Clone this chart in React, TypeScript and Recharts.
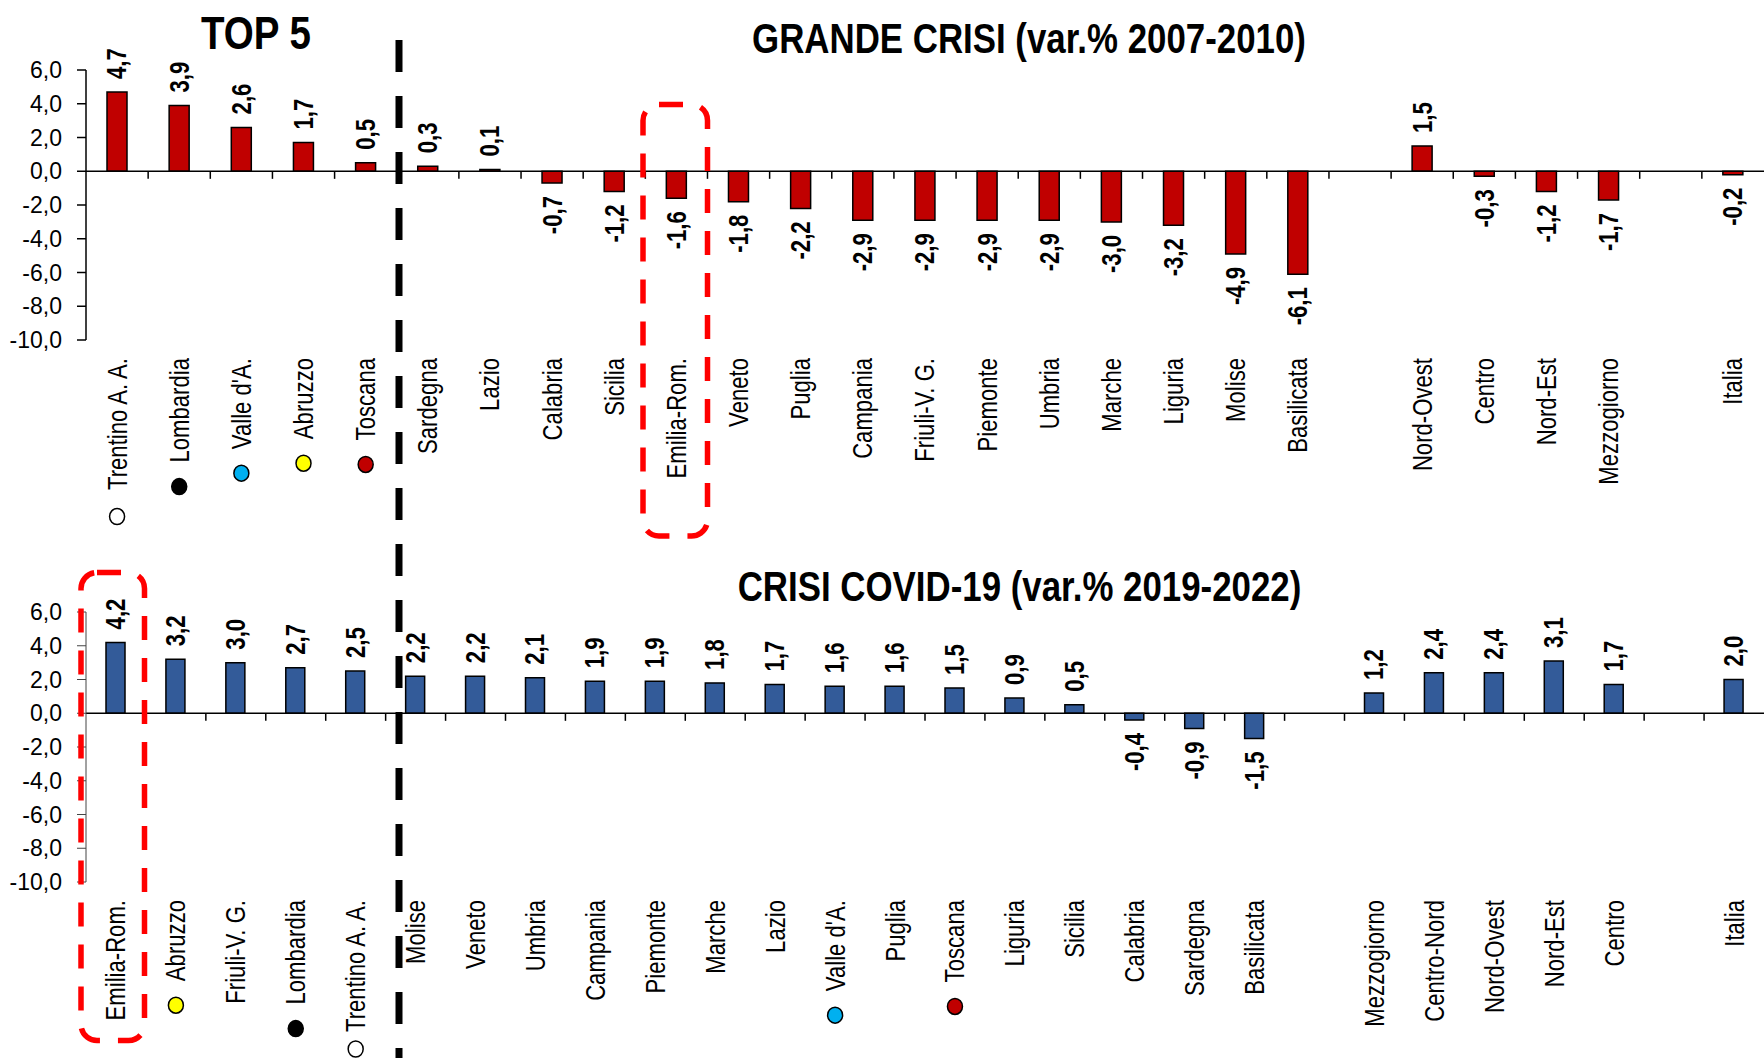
import React from 'react';
import { BarChart, Bar, XAxis, YAxis, ReferenceLine, LabelList } from 'recharts';

// ---------- DATA ----------
const crisisCategories = [
  'Trentino A. A.', 'Lombardia', "Valle d'A.", 'Abruzzo', 'Toscana', 'Sardegna', 'Lazio', 'Calabria',
  'Sicilia', 'Emilia-Rom.', 'Veneto', 'Puglia', 'Campania', 'Friuli-V. G.', 'Piemonte', 'Umbria',
  'Marche', 'Liguria', 'Molise', 'Basilicata', '', 'Nord-Ovest', 'Centro', 'Nord-Est', 'Mezzogiorno', ' ', 'Italia',
];
const crisisValues: (number | null)[] = [
  4.7, 3.9, 2.6, 1.7, 0.5, 0.3, 0.1, -0.7, -1.2, -1.6, -1.8, -2.2, -2.9, -2.9, -2.9, -2.9,
  -3.0, -3.2, -4.9, -6.1, null, 1.5, -0.3, -1.2, -1.7, null, -0.2,
];

const covidCategories = [
  'Emilia-Rom.', 'Abruzzo', 'Friuli-V. G.', 'Lombardia', 'Trentino A. A.', 'Molise', 'Veneto', 'Umbria',
  'Campania', 'Piemonte', 'Marche', 'Lazio', "Valle d'A.", 'Puglia', 'Toscana', 'Liguria', 'Sicilia',
  'Calabria', 'Sardegna', 'Basilicata', '', 'Mezzogiorno', 'Centro-Nord', 'Nord-Ovest', 'Nord-Est', 'Centro', ' ', 'Italia',
];
const covidValues: (number | null)[] = [
  4.2, 3.2, 3.0, 2.7, 2.5, 2.2, 2.2, 2.1, 1.9, 1.9, 1.8, 1.7, 1.6, 1.6, 1.5, 0.9, 0.5,
  -0.4, -0.9, -1.5, null, 1.2, 2.4, 2.4, 3.1, 1.7, null, 2.0,
];

const yTicks = [-10, -8, -6, -4, -2, 0, 2, 4, 6];
const markerRegions = ['Trentino A. A.', 'Lombardia', "Valle d'A.", 'Abruzzo', 'Toscana'];
const markerColors = ['#FFFFFF', '#000000', '#00B0F0', '#FFFF00', '#C00000'];

const titleTop5 = 'TOP 5';
const titleCrisis = 'GRANDE CRISI (var.% 2007-2010)';
const titleCovid = 'CRISI COVID-19 (var.% 2019-2022)';

// ---------- STYLE ----------
const FONT = '"Liberation Sans", Arial, sans-serif';
const NARROW = 0.82;
const LABEL_SIZE = 27;
const LABEL_OFFSET = 18;
const MARKER_OFFSET = 24;
const VALUE_SIZE = 27;
const VALUE_GAP = 13;

let measureCtx: CanvasRenderingContext2D | null = null;
function measureText(text: string, font: string): number {
  if (!measureCtx) {
    const c = document.createElement('canvas');
    measureCtx = c.getContext('2d');
  }
  if (!measureCtx) return text.length * 12;
  measureCtx.font = font;
  return measureCtx.measureText(text).width;
}

const fmt = (v: number) => v.toFixed(1).replace('.', ',');

const CategoryTick = (props: any) => {
  const { x, y, payload, maxY } = props;
  const label = String(payload?.value ?? '').trim();
  if (!label) return null;
  const idx = markerRegions.indexOf(label);
  const top = y + LABEL_OFFSET;
  const len = measureText(label, `${LABEL_SIZE}px "Liberation Sans"`) * NARROW;
  const cy = Math.min(top + len + MARKER_OFFSET, (maxY ?? 9999) - 9);
  return (
    <g>
      <text
        transform={`translate(${x},${top}) rotate(-90) scale(${NARROW},1)`}
        textAnchor="end"
        dy="0.35em"
        fontSize={LABEL_SIZE}
        fontFamily={FONT}
        fill="#000"
      >
        {label}
      </text>
      {idx >= 0 && (
        <ellipse
          cx={x}
          cy={cy}
          rx={7.5}
          ry={8}
          fill={markerColors[idx]}
          stroke="#000"
          strokeWidth={1.5}
        />
      )}
    </g>
  );
};

const ValueLabel = (props: any) => {
  const { x, y, width, height, value } = props;
  if (value === null || value === undefined) return null;
  const v = Number(value);
  const cx = Number(x) + Number(width) / 2;
  const y1 = Number(y);
  const y2 = Number(y) + Number(height);
  const topY = Math.min(y1, y2);
  const botY = Math.max(y1, y2);
  const pos = v >= 0;
  const ty = pos ? topY - VALUE_GAP : botY + VALUE_GAP;
  return (
    <text
      transform={`translate(${cx},${ty}) rotate(-90) scale(${NARROW},1)`}
      textAnchor={pos ? 'start' : 'end'}
      dy="0.35em"
      fontSize={VALUE_SIZE}
      fontWeight="bold"
      fontFamily={FONT}
      fill="#000"
    >
      {fmt(v)}
    </text>
  );
};

function boundaryTicks(cats: string[]) {
  const out: { x: string; position: 'start' | 'end' }[] = [];
  for (let i = 1; i < cats.length; i++) {
    if (cats[i].trim()) out.push({ x: cats[i], position: 'start' });
    else out.push({ x: cats[i - 1], position: 'end' });
  }
  return out;
}

type PanelProps = {
  categories: string[];
  values: (number | null)[];
  color: string;
  height: number;
  marginTop: number;
  xAxisHeight: number;
  axisColor: string;
  axisWidth: number;
  barSize: number;
};

function Panel({ categories, values, color, height, marginTop, xAxisHeight, axisColor, axisWidth, barSize }: PanelProps) {
  const data = categories.map((name, i) => ({ name, v: values[i] }));
  const ticks = boundaryTicks(categories);
  return (
    <BarChart
      width={1764}
      height={height}
      data={data}
      margin={{ top: marginTop, right: 0, bottom: 0, left: 0 }}
    >
      <XAxis
        dataKey="name"
        interval={0}
        tick={<CategoryTick maxY={height} />}
        axisLine={false}
        tickLine={false}
        tickSize={0}
        tickMargin={0}
        height={xAxisHeight}
      />
      <YAxis
        type="number"
        width={86}
        domain={[-10, 6]}
        ticks={yTicks}
        interval={0}
        allowDataOverflow
        tickFormatter={(v: number) => fmt(v)}
        tick={{ fontSize: 23, fill: '#000', fontFamily: FONT }}
        axisLine={{ stroke: axisColor, strokeWidth: axisWidth }}
        tickLine={{ stroke: axisColor, strokeWidth: axisWidth }}
        tickSize={9}
        tickMargin={15}
      />
      <ReferenceLine y={0} stroke="#000" strokeWidth={1.6} ifOverflow="visible" />
      {ticks.map((b, i) => (
        <ReferenceLine
          key={`t${i}`}
          segment={[{ x: b.x, y: 0 }, { x: b.x, y: -0.45 }]}
          position={b.position}
          stroke="#000"
          strokeWidth={1.5}
          ifOverflow="visible"
        />
      ))}
      <Bar dataKey="v" fill={color} stroke="#000" strokeWidth={1.5} barSize={barSize} isAnimationActive={false}>
        <LabelList dataKey="v" content={<ValueLabel />} />
      </Bar>
    </BarChart>
  );
}

export default function App() {
  return (
    <div
      style={{
        position: 'absolute',
        left: 0,
        top: 0,
        width: 1764,
        height: 1058,
        background: '#fff',
        fontFamily: FONT,
        overflow: 'hidden',
      }}
    >
      <div style={{ position: 'absolute', left: 0, top: 0 }}>
        <Panel
          categories={crisisCategories}
          values={crisisValues}
          color="#C00000"
          height={540}
          marginTop={70}
          xAxisHeight={200}
          axisColor="#000"
          axisWidth={1.5}
          barSize={20}
        />
      </div>
      <div style={{ position: 'absolute', left: 0, top: 540 }}>
        <Panel
          categories={covidCategories}
          values={covidValues}
          color="#335B99"
          height={518}
          marginTop={72}
          xAxisHeight={176}
          axisColor="#444"
          axisWidth={1}
          barSize={19}
        />
      </div>
      <svg
        width={1764}
        height={1058}
        style={{ position: 'absolute', left: 0, top: 0, pointerEvents: 'none' }}
      >
        <text
          transform={`translate(256,48.5) scale(${NARROW},1)`}
          textAnchor="middle"
          fontSize={47}
          fontWeight="bold"
          fontFamily={FONT}
          fill="#000"
        >
          {titleTop5}
        </text>
        <text
          transform={`translate(1029,53) scale(${NARROW},1)`}
          textAnchor="middle"
          fontSize={42.5}
          fontWeight="bold"
          fontFamily={FONT}
          fill="#000"
        >
          {titleCrisis}
        </text>
        <text
          transform={`translate(1019.5,601) scale(${NARROW},1)`}
          textAnchor="middle"
          fontSize={42.5}
          fontWeight="bold"
          fontFamily={FONT}
          fill="#000"
        >
          {titleCovid}
        </text>
        <line x1={399} y1={40} x2={399} y2={1058} stroke="#000" strokeWidth={7} strokeDasharray="32 24" />
        <rect x={643} y={104.5} width={64.5} height={431.5} rx={16} ry={16} fill="none" stroke="#FF0000" strokeWidth={5.5} strokeDasharray="24 18" />
        <rect x={81} y={572.5} width={63.5} height={468} rx={16} ry={16} fill="none" stroke="#FF0000" strokeWidth={5.5} strokeDasharray="24 18" />
      </svg>
    </div>
  );
}
